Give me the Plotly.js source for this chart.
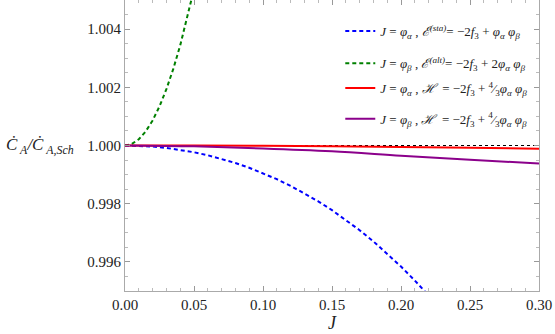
<!DOCTYPE html>
<html>
<head>
<meta charset="utf-8">
<script src="https://cdn.plot.ly/plotly-3.0.1.min.js"></script>
<style>
  html, body { margin: 0; padding: 0; background: #fff; }
  #chart { width: 555px; height: 334px; }
</style>
</head>
<body>
<div id="chart"></div>
<script>
// values
var jBlue = [0, 0.01, 0.02, 0.03, 0.04, 0.05, 0.06, 0.07, 0.08, 0.09, 0.10, 0.11,
             0.12, 0.13, 0.14, 0.15, 0.16, 0.17, 0.18, 0.19, 0.20, 0.21, 0.22];
var ratioBlue = [1, 0.999991, 0.999963, 0.999917, 0.999852, 0.999768, 0.999665, 0.999542,
                 0.999399, 0.999235, 0.99905, 0.998843, 0.998613, 0.998359, 0.998082,
                 0.997778, 0.997448, 0.99709, 0.996704, 0.996288, 0.99584, 0.99536, 0.994844];

var jGreen = [0, 0.005, 0.01, 0.015, 0.02, 0.025, 0.03, 0.035, 0.04, 0.045, 0.05];
var ratioGreen = [1, 1.000054, 1.000215, 1.000484, 1.00086, 1.001344, 1.001935,
                  1.002634, 1.00344, 1.004354, 1.005375];

var jSolid = [0, 0.05, 0.10, 0.15, 0.20, 0.25, 0.30];
var ratioRed = [1, 0.999997, 0.999988, 0.999973, 0.999951, 0.999924, 0.99989];
var ratioPurple = [1, 0.99997, 0.9999, 0.9998, 0.99965, 0.99951, 0.99938];

var names = [
  "<i>J</i> = <i>φ<sub>α</sub></i> , <i>ℰ<sup>(sta)</sup></i>= −2<i>f</i><sub>3</sub> + <i>φ<sub>α</sub> φ<sub>β</sub></i>",
  "<i>J</i> = <i>φ<sub>β</sub></i> , <i>ℰ<sup>(alt)</sup></i>= −2<i>f</i><sub>3</sub> + 2<i>φ<sub>α</sub> φ<sub>β</sub></i>",
  "<i>J</i> = <i>φ<sub>α</sub></i> , <i>ℋ</i>  = −2<i>f</i><sub>3</sub> + <sup>4</sup>⁄<sub>3</sub><i>φ<sub>α</sub> φ<sub>β</sub></i>",
  "<i>J</i> = <i>φ<sub>β</sub></i> , <i>ℋ</i>  = −2<i>f</i><sub>3</sub> + <sup>4</sup>⁄<sub>3</sub><i>φ<sub>α</sub> φ<sub>β</sub></i>"
];

var data = [
  {x: [0, 0.30], y: [1, 1], mode: "lines", showlegend: false, hoverinfo: "skip",
   line: {color: "#000000", width: 1, dash: "3px,3px"}},
  {x: jBlue, y: ratioBlue, mode: "lines", name: names[0], legend: "legend",
   line: {color: "#0000ff", width: 2, dash: "4px,3px"}},
  {x: jGreen, y: ratioGreen, mode: "lines", name: names[1], legend: "legend2",
   line: {color: "#008000", width: 2, dash: "4px,3px"}},
  {x: jSolid, y: ratioRed, mode: "lines", name: names[2], legend: "legend3",
   line: {color: "#ff0000", width: 2, shape: "spline"}},
  {x: jSolid, y: ratioPurple, mode: "lines", name: names[3], legend: "legend4",
   line: {color: "#8b008b", width: 2, shape: "spline"}}
];

var serif = "Liberation Serif";
var axisFont = {family: serif, size: 15, color: "#222"};

function legendAt(y) {
  return {
    x: 0.52, y: y, xanchor: "left", yanchor: "top",
    bgcolor: "rgba(0,0,0,0)", itemwidth: 30,
    font: {family: serif, size: 13, color: "#222"}
  };
}

var layout = {
  width: 555,
  height: 334,
  margin: {l: 125, r: 16, t: 0, b: 43},
  paper_bgcolor: "#ffffff",
  plot_bgcolor: "#ffffff",
  font: {family: serif, color: "#222"},
  xaxis: {
    range: [0, 0.30],
    dtick: 0.05,
    tickformat: ".2f",
    ticks: "inside",
    ticklen: 5,
    tickcolor: "#999",
    minor: {dtick: 0.01, ticks: "inside", ticklen: 3, tickcolor: "#bbb"},
    showgrid: false,
    zeroline: false,
    showline: true,
    linecolor: "#aaa",
    linewidth: 1,
    mirror: "allticks",
    tickfont: axisFont,
    title: {text: "<i>J</i>", font: {family: serif, size: 18, color: "#222"}, standoff: 0}
  },
  yaxis: {
    range: [0.995, 1.005],
    dtick: 0.002,
    tickformat: ".3f",
    ticks: "inside",
    ticklen: 5,
    tickcolor: "#999",
    minor: {dtick: 0.0005, ticks: "inside", ticklen: 3, tickcolor: "#bbb"},
    showgrid: false,
    zeroline: false,
    showline: true,
    linecolor: "#aaa",
    linewidth: 1,
    mirror: "allticks",
    tickfont: axisFont
  },
  legend: legendAt(0.945),
  legend2: legendAt(0.834),
  legend3: legendAt(0.749),
  legend4: legendAt(0.643),
  annotations: [{
    text: "<i>Ċ<sub> A</sub>/Ċ<sub> A,Sch</sub></i>",
    xref: "paper", yref: "y",
    x: -0.205, y: 1.0,
    xanchor: "center", yanchor: "middle",
    showarrow: false,
    font: {family: serif, size: 17, color: "#222"}
  }]
};

Plotly.newPlot("chart", data, layout, {displayModeBar: false, staticPlot: true});
</script>
</body>
</html>
